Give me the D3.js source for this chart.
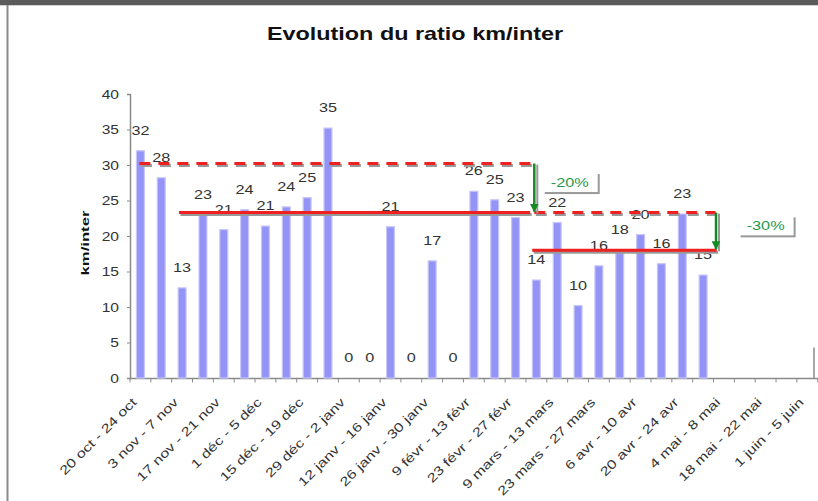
<!DOCTYPE html>
<html>
<head>
<meta charset="utf-8">
<script src="https://cdn.jsdelivr.net/npm/d3@7"></script>
<style>
    body { margin: 0; background: #fff; }
    svg { display: block; font-family: "Liberation Sans", Arial, sans-serif; }
</style>
</head>
<body>
<svg class="chart"></svg>
<script>
const width = 818,
    height = 501;

//Weeks (one bar each)
const weeks = [
    "20 oct - 24 oct", "27 oct - 31 oct", "3 nov - 7 nov", "10 nov - 14 nov",
    "17 nov - 21 nov", "24 nov - 28 nov", "1 déc - 5 déc", "8 déc - 12 déc",
    "15 déc - 19 déc", "22 déc - 26 déc", "29 déc - 2 janv", "5 janv - 9 janv",
    "12 janv - 16 janv", "19 janv - 23 janv", "26 janv - 30 janv", "2 févr - 6 févr",
    "9 févr - 13 févr", "16 févr - 20 févr", "23 févr - 27 févr", "2 mars - 6 mars",
    "9 mars - 13 mars", "16 mars - 20 mars", "23 mars - 27 mars", "30 mars - 3 avr",
    "6 avr - 10 avr", "13 avr - 17 avr", "20 avr - 24 avr", "27 avr - 1 mai",
    "4 mai - 8 mai", "11 mai - 15 mai", "18 mai - 22 mai", "25 mai - 29 mai",
    "1 juin - 5 juin",
];

//km / intervention ratio
const ratio = [
    32.0, 28.2, 12.7, 23.0, 20.9, 23.7, 21.4, 24.1, 25.4, 35.2,
    0, 0, 21.3, 0, 16.5, 0, 26.3, 25.1, 22.6, 13.8,
    21.9, 10.2, 15.8, 18.0, 20.2, 16.1, 23.1, 14.5,
];

const yTicks = [0, 5, 10, 15, 20, 25, 30, 35, 40];

//Reference levels (start / end in band units)
const levelsDashed = [
    { from: 0.45, to: 19.42, value: 30.2 },
    { from: 19.4, to: 28.1, value: 23.3 },
];
const levelsSolid = [
    { from: 2.35, to: 19.2, value: 23.3 },
    { from: 19.3, to: 28.15, value: 18.0 },
];
const drops = [
    { at: 19.4, from: 30.2, to: 23.3, label: "-20%", lx: 21.1, ly: 27.6 },
    { at: 28.12, from: 23.3, to: 18.0, label: "-30%", lx: 30.5, ly: 21.5 },
];

const svg = d3.select(".chart").attr("width", width).attr("height", height);

const x = d3
    .scaleBand()
    .domain(weeks)
    .range([130, 130 + weeks.length * 20.84])
    .paddingInner(0.62)
    .paddingOuter(0.31);

const xu = d3.scaleLinear().domain([0, weeks.length]).range(x.range());

const y = d3.scaleLinear().domain([0, 40]).range([378, 94]);

const stretch = 1.3;

//Frame
svg.append("rect").attr("x", 0).attr("y", 0).attr("width", width).attr("height", 5).attr("fill", "#5b5b5b");
svg.append("line").attr("x1", 0).attr("x2", width).attr("y1", 5.5).attr("y2", 5.5).attr("stroke", "#d0d0d0");
svg.append("line").attr("x1", 7.5).attr("x2", 7.5).attr("y1", 5).attr("y2", height).attr("stroke", "#8a8a8a").attr("stroke-width", 2);

//Title
svg.append("text")
    .attr("transform", "translate(415,40) scale(" + stretch + ",1)")
    .attr("text-anchor", "middle")
    .attr("font-weight", "bold")
    .attr("font-size", 18)
    .attr("fill", "#111")
    .text("Evolution du ratio km/inter");

//Y axis title
svg.append("text")
    .attr("transform", "translate(89,243) rotate(-90) scale(1.45,1)")
    .attr("text-anchor", "middle")
    .attr("font-weight", "bold")
    .attr("font-size", 11.5)
    .attr("fill", "#111")
    .text("km/inter");

//Y axis
const yAxis = svg.append("g").attr("transform", "translate(130,0)")
    .call(d3.axisLeft(y).tickValues(yTicks).tickSize(3).tickFormat(""));
yAxis.select(".domain").attr("stroke", "#8a8a8a").attr("stroke-width", 1.5);
yAxis.selectAll(".tick line").attr("stroke", "#8a8a8a");

svg.append("g")
    .selectAll("text")
    .data(yTicks)
    .enter()
    .append("text")
    .attr("transform", function (d) {
        return "translate(119," + (y(d) + 4.5) + ") scale(" + stretch + ",1)";
    })
    .attr("text-anchor", "end")
    .attr("font-size", 12)
    .attr("fill", "#333")
    .text(function (d) {
        return d;
    });

//X axis
const xAxis = svg.append("g").attr("transform", "translate(0,378.5)");
xAxis.append("line")
    .attr("x1", x.range()[0]).attr("x2", width)
    .attr("stroke", "#8a8a8a").attr("stroke-width", 1.5);
xAxis.selectAll(".tk")
    .data(d3.range(weeks.length + 1))
    .enter()
    .append("line")
    .attr("class", "tk")
    .attr("x1", function (d) { return xu(d); })
    .attr("x2", function (d) { return xu(d); })
    .attr("y1", 0).attr("y2", 4)
    .attr("stroke", "#8a8a8a");
svg.append("line")
    .attr("x1", 814).attr("x2", 814).attr("y1", y(4.3)).attr("y2", y(0))
    .attr("stroke", "#8a8a8a").attr("stroke-width", 1.5);

svg.append("g")
    .selectAll("text")
    .data(weeks.filter(function (d, i) { return i % 2 === 0; }))
    .enter()
    .append("text")
    .attr("transform", function (d) {
        return "translate(" + (x(d) + x.bandwidth() / 2 - 3) + ",403) rotate(-45) scale(1.3,1)";
    })
    .attr("text-anchor", "end")
    .attr("font-size", 12.5)
    .attr("fill", "#333")
    .text(function (d) {
        return d;
    });

//Bars
const bars = svg.append("g")
    .selectAll("g")
    .data(ratio)
    .enter()
    .append("g");

bars.append("rect")
    .attr("x", function (d, i) { return x(weeks[i]); })
    .attr("y", function (d) { return y(d); })
    .attr("width", x.bandwidth())
    .attr("height", function (d) { return y(0) - y(d); })
    .attr("fill", "#9494f6")
    .attr("stroke", "#c6c6fa")
    .attr("stroke-width", 1.2);

bars.append("text")
    .attr("transform", function (d, i) {
        return "translate(" + (x(weeks[i]) + x.bandwidth() / 2) + "," + (y(d) - 16) + ") scale(" + stretch + ",1)";
    })
    .attr("text-anchor", "middle")
    .attr("font-size", 12.5)
    .attr("fill", "#333")
    .text(function (d) {
        return Math.round(d);
    });

//Reference lines (with shadow)
function refLine(data, dashed) {
    const g = svg.append("g");
    [["#999", 1.5, 2], ["#ee2020", 0, 0]].forEach(function (s) {
        g.selectAll(null)
            .data(data)
            .enter()
            .append("line")
            .attr("x1", function (d) { return xu(d.from) + s[1]; })
            .attr("x2", function (d) { return xu(d.to) + s[1]; })
            .attr("y1", function (d) { return y(d.value) + s[2]; })
            .attr("y2", function (d) { return y(d.value) + s[2]; })
            .attr("stroke", s[0])
            .attr("stroke-width", 3)
            .attr("stroke-dasharray", dashed ? "11,8" : null);
    });
}
refLine(levelsDashed, true);
refLine(levelsSolid, false);

//Drops (arrows + labels)
svg.append("defs").append("marker")
    .attr("id", "head")
    .attr("viewBox", "0 0 10 10")
    .attr("refX", 9).attr("refY", 5)
    .attr("markerWidth", 3.5).attr("markerHeight", 3.5)
    .attr("orient", "auto")
    .append("path")
    .attr("d", "M0,0L10,5L0,10Z")
    .attr("fill", "#168a22");

const dg = svg.append("g").selectAll("g").data(drops).enter().append("g");

dg.append("line")
    .attr("x1", function (d) { return xu(d.at) + 3; })
    .attr("x2", function (d) { return xu(d.at) + 3; })
    .attr("y1", function (d) { return y(d.from) + 1; })
    .attr("y2", function (d) { return y(d.to) + 1; })
    .attr("stroke", "#999").attr("stroke-width", 2);
dg.append("line")
    .attr("x1", function (d) { return xu(d.at); })
    .attr("x2", function (d) { return xu(d.at); })
    .attr("y1", function (d) { return y(d.from); })
    .attr("y2", function (d) { return y(d.to) - 1; })
    .attr("stroke", "#168a22").attr("stroke-width", 2.5)
    .attr("marker-end", "url(#head)");

dg.append("rect")
    .attr("x", function (d) { return xu(d.lx) - 27 + 2; })
    .attr("y", function (d) { return y(d.ly) - 10 + 2; })
    .attr("width", 55).attr("height", 20)
    .attr("fill", "#999");
dg.append("rect")
    .attr("x", function (d) { return xu(d.lx) - 27; })
    .attr("y", function (d) { return y(d.ly) - 10; })
    .attr("width", 55).attr("height", 20)
    .attr("fill", "#fff");
dg.append("text")
    .attr("transform", function (d) {
        return "translate(" + xu(d.lx) + "," + (y(d.ly) + 5) + ") scale(1.25,1)";
    })
    .attr("text-anchor", "middle")
    .attr("font-size", 13)
    .attr("fill", "#1f9a4a")
    .text(function (d) {
        return d.label;
    });
</script>
</body>
</html>
